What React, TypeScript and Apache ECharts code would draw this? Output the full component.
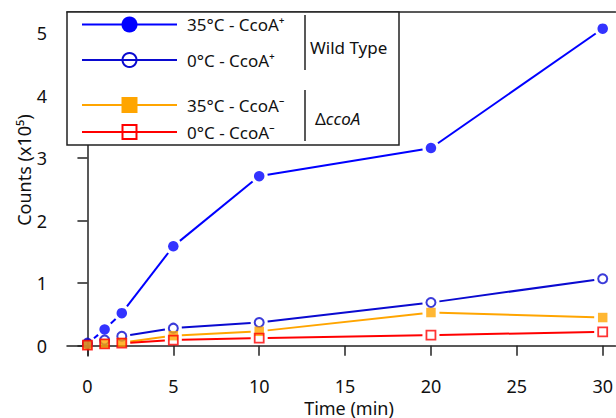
import React, { useEffect, useRef } from 'react';
import * as echarts from 'echarts';

// ---- data ----
const times = [0, 1, 2, 5, 10, 20, 30];
const wt35 = [0.03, 0.26, 0.52, 1.59, 2.71, 3.16, 5.07];
const wt0 = [0.04, 0.09, 0.15, 0.28, 0.37, 0.69, 1.07];
const mut35 = [0.01, 0.03, 0.05, 0.16, 0.23, 0.53, 0.45];
const mut0 = [0.01, 0.03, 0.04, 0.09, 0.12, 0.17, 0.22];
const xTicks = [0, 5, 10, 15, 20, 25, 30];
const yTicks = [0, 1, 2, 3, 4, 5];
const seriesNames = ['35°C - CcoA⁺', '0°C - CcoA⁺', '35°C - CcoA⁻', '0°C - CcoA⁻'];

const FONT = '"Noto Sans", "Open Sans", sans-serif';
const AXIS_COLOR = '#222';
const BLUE = '#0000FF';
const BLUE2 = '#0A0AD0';
const ORANGE = '#FFA500';
const RED = '#FF0000';
const GAP = 8.5;

const segs = (ys: number[]) => times.slice(1).map((t, i) => [times[i], ys[i], t, ys[i + 1]]);
const pts = (ys: number[]) => times.map((t, i) => [t, ys[i]]);

const makeLine = (name: string, ys: number[], color: string, width: number) => ({
  type: 'custom',
  name,
  silent: true,
  data: segs(ys),
  encode: { x: [0, 2], y: [1, 3] },
  renderItem: (_p: any, api: any) => {
    const a = api.coord([api.value(0), api.value(1)]);
    const b = api.coord([api.value(2), api.value(3)]);
    const dx = b[0] - a[0];
    const dy = b[1] - a[1];
    const len = Math.hypot(dx, dy);
    if (len <= 2 * GAP + 1) return null;
    const ux = dx / len;
    const uy = dy / len;
    return {
      type: 'line',
      shape: { x1: a[0] + ux * GAP, y1: a[1] + uy * GAP, x2: b[0] - ux * GAP, y2: b[1] - uy * GAP },
      style: { stroke: color, lineWidth: width },
    };
  },
});

const makeMarkers = (name: string, ys: number[], symbol: string, size: number, itemStyle: any) => ({
  type: 'scatter',
  name,
  silent: true,
  data: pts(ys),
  symbol,
  symbolSize: size,
  itemStyle,
});

export default function App() {
  const ref = useRef<HTMLDivElement>(null);
  useEffect(() => {
    if (!ref.current) return;
    const chart = echarts.init(ref.current, undefined, { renderer: 'svg' });

    const lx1 = 82, lx2 = 177, mx = 129.5, tx = 187;
    const ly = [24.5, 60, 105, 132];
    const legendText = (y: number, t: string) => ({
      type: 'text', x: tx, y, z: 102,
      style: { text: t, font: `17px ${FONT}`, fill: '#111', verticalAlign: 'middle', align: 'left' },
    });
    const legendLine = (y: number, c: string) => ({
      type: 'line', z: 101, shape: { x1: lx1, y1: y, x2: lx2, y2: y }, style: { stroke: c, lineWidth: 2 },
    });

    const option: any = {
      animation: false,
      grid: { left: 67, right: 0, top: 12, bottom: 62, containLabel: false },
      xAxis: [
        {
          type: 'value', min: -1.19, max: 30.74,
          axisLine: { show: true, lineStyle: { color: AXIS_COLOR, width: 1.5 } },
          axisTick: { show: true, customValues: xTicks, length: 10, inside: false, lineStyle: { color: AXIS_COLOR, width: 1.5 } },
          axisLabel: { customValues: xTicks, margin: 21, fontSize: 18, lineHeight: 18, fontFamily: FONT, color: '#111' },
          splitLine: { show: false },
        },
        {
          type: 'value', position: 'top', min: -1.19, max: 30.74,
          axisLine: { show: true, lineStyle: { color: AXIS_COLOR, width: 1.5 } },
          axisTick: { show: false }, axisLabel: { show: false }, splitLine: { show: false },
        },
      ],
      yAxis: {
        type: 'value', min: -0.165, max: 5.336,
        axisLine: { show: true, lineStyle: { color: AXIS_COLOR, width: 1.5 } },
        axisTick: { show: true, customValues: yTicks, length: 10, inside: false, lineStyle: { color: AXIS_COLOR, width: 1.5 } },
        axisLabel: { customValues: yTicks, margin: 20, fontSize: 18, fontFamily: FONT, color: '#111' },
        splitLine: { show: false },
      },
      series: [
        makeLine(seriesNames[0], wt35, BLUE, 2),
        makeMarkers(seriesNames[0], wt35, 'circle', 10.5, { color: BLUE }),
        makeLine(seriesNames[1], wt0, BLUE2, 2),
        makeMarkers(seriesNames[1], wt0, 'circle', 9, { color: 'transparent', borderColor: BLUE2, borderWidth: 2 }),
        makeLine(seriesNames[2], mut35, ORANGE, 2),
        makeMarkers(seriesNames[2], mut35, 'rect', 9.5, { color: ORANGE }),
        makeLine(seriesNames[3], mut0, RED, 2),
        makeMarkers(seriesNames[3], mut0, 'rect', 9, { color: 'transparent', borderColor: RED, borderWidth: 1.8 }),
      ],
      graphic: [
        // legend box
        { type: 'rect', z: 100, shape: { x: 67, y: 12, width: 332, height: 133 }, style: { fill: '#fff', stroke: AXIS_COLOR, lineWidth: 1.5 } },
        legendLine(ly[0], BLUE),
        { type: 'circle', z: 102, shape: { cx: mx, cy: ly[0], r: 8 }, style: { fill: BLUE } },
        legendText(ly[0], seriesNames[0]),
        legendLine(ly[1], BLUE2),
        { type: 'circle', z: 102, shape: { cx: mx, cy: ly[1], r: 7 }, style: { fill: 'transparent', stroke: BLUE2, lineWidth: 2 } },
        legendText(ly[1], seriesNames[1]),
        legendLine(ly[2], ORANGE),
        { type: 'rect', z: 102, shape: { x: mx - 8, y: ly[2] - 8, width: 16, height: 16 }, style: { fill: ORANGE } },
        legendText(ly[2], seriesNames[2]),
        legendLine(ly[3], RED),
        { type: 'rect', z: 102, shape: { x: mx - 7, y: ly[3] - 7, width: 14, height: 14 }, style: { fill: 'transparent', stroke: RED, lineWidth: 2 } },
        legendText(ly[3], seriesNames[3]),
        // group brackets
        { type: 'line', z: 101, shape: { x1: 305, y1: 15, x2: 305, y2: 70 }, style: { stroke: AXIS_COLOR, lineWidth: 1.5 } },
        { type: 'line', z: 101, shape: { x1: 305, y1: 90, x2: 305, y2: 141 }, style: { stroke: AXIS_COLOR, lineWidth: 1.5 } },
        {
          type: 'text', x: 310, y: 47, z: 102,
          style: { text: 'Wild Type', font: `17px ${FONT}`, fill: '#111', verticalAlign: 'middle', align: 'left' },
        },
        {
          type: 'text', x: 315, y: 118, z: 102,
          style: {
            text: '{a|Δ}{b|ccoA}', verticalAlign: 'middle', align: 'left',
            rich: {
              a: { fontSize: 17, fontFamily: FONT, fill: '#111', color: '#111' },
              b: { fontSize: 17, fontFamily: FONT, fontStyle: 'italic', fill: '#111', color: '#111' },
            },
          },
        },
        // axis names
        {
          type: 'text', x: 349, y: 408, z: 102,
          style: { text: 'Time (min)', font: `18px ${FONT}`, lineHeight: 18, fill: '#111', align: 'center', verticalAlign: 'middle' },
        },
        {
          type: 'text', x: 24, y: 170, rotation: Math.PI / 2, z: 102,
          style: { text: 'Counts (x10⁵)', font: `18px ${FONT}`, fill: '#111', align: 'center', verticalAlign: 'middle' },
        },
      ],
    };
    chart.setOption(option);
    return () => chart.dispose();
  }, []);
  return <div ref={ref} style={{ position: 'absolute', left: 0, top: 0, width: 616, height: 418 }} />;
}
